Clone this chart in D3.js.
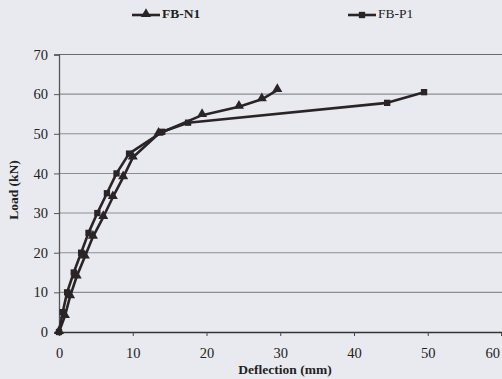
<!DOCTYPE html>
<html><head><meta charset="utf-8">
<script src="https://cdn.jsdelivr.net/npm/d3@7"></script>
<style>
html,body{margin:0;padding:0;background:#e9eaf0;}
svg{display:block;font-family:"Liberation Serif","Times New Roman",serif;}
</style></head>
<body><svg id="c" width="502" height="379"></svg>
<script>
const seriesNames = ["FB-N1", "FB-P1"];
const fbN1Deflection = [0, 0.8, 1.5, 2.4, 3.5, 4.6, 6.0, 7.3, 8.7, 10.0, 13.5, 19.4, 24.4, 27.5, 29.6];
const fbN1Load       = [0, 4, 9, 14, 19, 24, 29, 34, 39, 44, 50, 54.7, 56.8, 58.7, 61];
const fbP1Deflection = [0, 0.5, 1.1, 2.0, 3.0, 4.0, 5.2, 6.5, 7.8, 9.5, 14.0, 17.5, 44.5, 49.5];
const fbP1Load       = [0, 5, 10, 15, 20, 25, 30, 35, 40, 45, 50.5, 52.8, 57.8, 60.5];
const xTicks = [0, 10, 20, 30, 40, 50, 60];
const yTicks = [0, 10, 20, 30, 40, 50, 60, 70];
const xTitle = "Deflection (mm)";
const yTitle = "Load (kN)";

const svg = d3.select("#c");
const x = d3.scaleLinear().domain([0, 60]).range([59, 501.5]);
const y = d3.scaleLinear().domain([0, 70]).range([332, 54.5]);
const ink = "#2b2427";

// gridlines
svg.append("g").selectAll("line").data(yTicks.filter(d => d > 0)).join("line")
  .attr("x1", x(0)).attr("x2", 502).attr("y1", d => y(d)).attr("y2", d => y(d))
  .attr("stroke", d => d === 70 ? "#6a6a70" : "#8c8d94").attr("stroke-width", 1.1);

// y axis
const ya = svg.append("g").attr("transform", `translate(${x(0)},0)`)
  .call(d3.axisLeft(y).tickValues(yTicks).tickSize(5).tickPadding(6));
ya.select(".domain").attr("stroke", "#555").attr("stroke-width", 1.3);
ya.selectAll(".tick line").attr("stroke", "#555");
ya.selectAll("text").attr("font-size", 14.5).attr("fill", "#222")
  .attr("font-family", "Liberation Serif, serif");

// x axis
const xa = svg.append("g").attr("transform", `translate(0,${y(0)})`)
  .call(d3.axisBottom(x).tickValues(xTicks).tickSize(4).tickPadding(12));
xa.select(".domain").attr("stroke", "#333").attr("stroke-width", 1.5);
xa.selectAll(".tick line").attr("stroke", "#444");
xa.selectAll("text").attr("font-size", 14.5).attr("fill", "#222")
  .attr("font-family", "Liberation Serif, serif");
xa.selectAll(".tick").filter(d => d === 60).select("text")
  .attr("text-anchor", "end").attr("dx", "-2");

// titles
svg.append("text").attr("x", 285).attr("y", 371).attr("text-anchor", "middle")
  .attr("dominant-baseline", "middle").attr("font-weight", "bold").attr("font-size", 13.5)
  .attr("fill", "#222").text(xTitle);
svg.append("text").attr("transform", "translate(15,190) rotate(-90)").attr("text-anchor", "middle")
  .attr("dominant-baseline", "middle").attr("font-weight", "bold").attr("font-size", 13.5)
  .attr("fill", "#222").text(yTitle);

// lines
const line = d3.line().x(d => x(d[0])).y(d => y(d[1]));
const n1 = fbN1Deflection.map((d, i) => [d, fbN1Load[i]]);
const p1 = fbP1Deflection.map((d, i) => [d, fbP1Load[i]]);
[p1, n1].forEach(s => svg.append("path").datum(s).attr("d", line)
  .attr("fill", "none").attr("stroke", ink).attr("stroke-width", 2.6).attr("stroke-linejoin", "round"));

const tri = d3.symbol().type(d3.symbolTriangle).size(44);
const sq = d3.symbol().type(d3.symbolSquare).size(40);
svg.append("g").selectAll("path").data(p1).join("path").attr("d", sq)
  .attr("transform", d => `translate(${x(d[0])},${y(d[1])})`).attr("fill", ink);
svg.append("g").selectAll("path").data(n1).join("path").attr("d", tri)
  .attr("transform", d => `translate(${x(d[0])},${y(d[1]) - 1})`).attr("fill", ink);

// legend
const lg = [{name: seriesNames[0], x1: 132, sym: tri, bold: true}, {name: seriesNames[1], x1: 348, sym: sq, bold: false}];
lg.forEach(l => {
  svg.append("line").attr("x1", l.x1).attr("x2", l.x1 + 28).attr("y1", 15).attr("y2", 15)
    .attr("stroke", ink).attr("stroke-width", 2.6);
  svg.append("path").attr("d", l.sym).attr("transform", `translate(${l.x1 + 14},${l.sym === tri ? 14 : 15})`).attr("fill", ink);
  svg.append("text").attr("x", l.x1 + 30).attr("y", 15).attr("dominant-baseline", "middle")
    .attr("font-size", 13.5).attr("font-weight", l.bold ? "bold" : "normal").attr("fill", "#222").text(l.name);
});
</script></body></html>
